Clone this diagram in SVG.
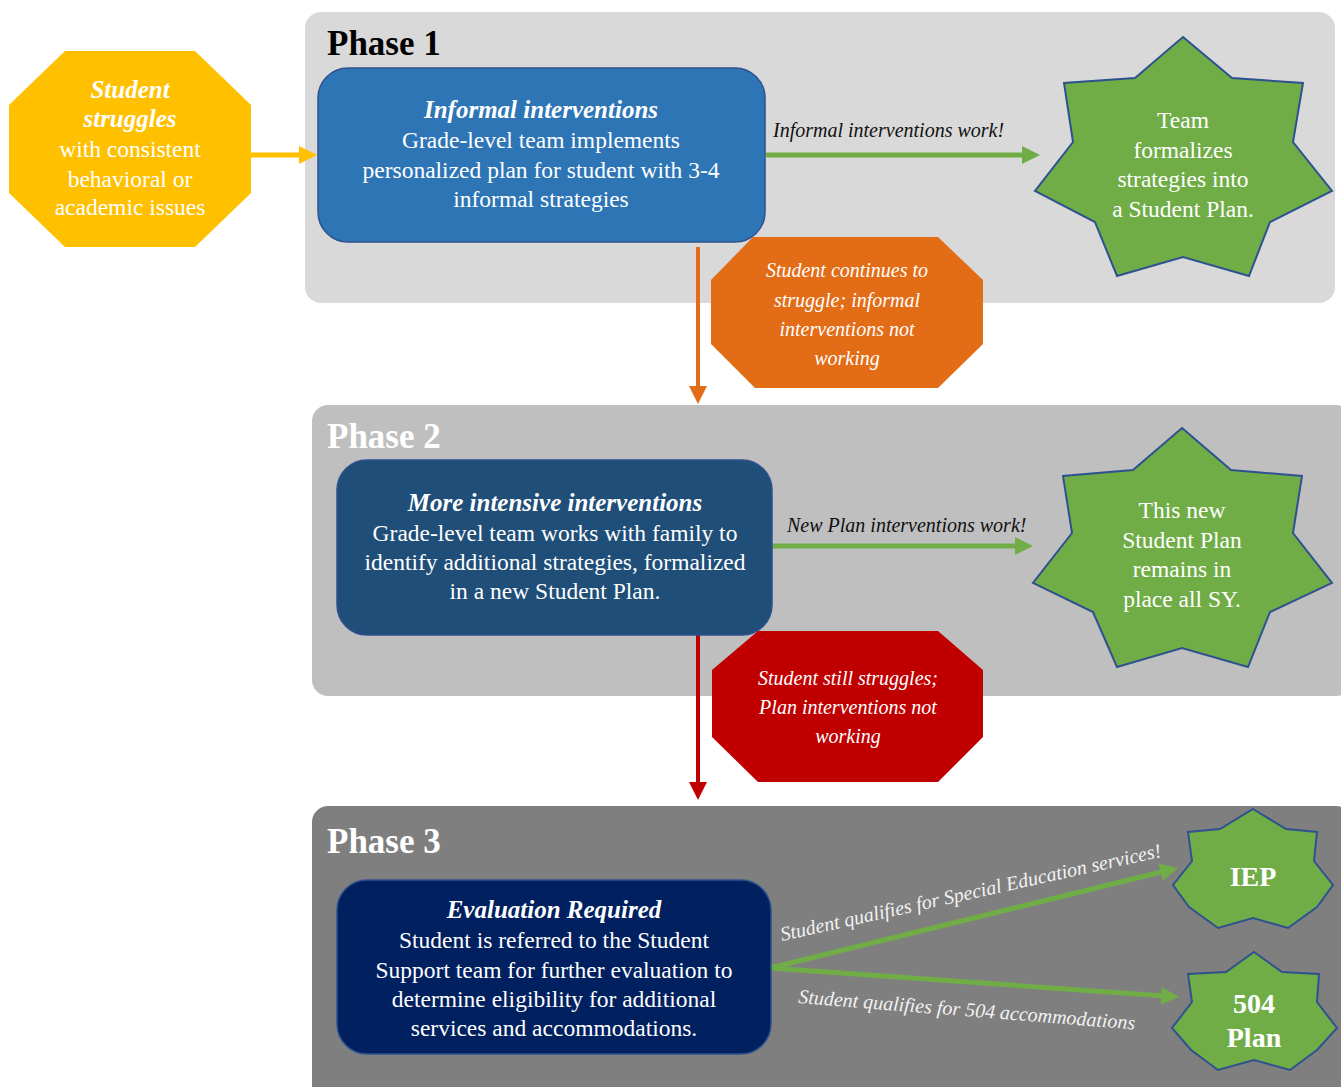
<svg xmlns="http://www.w3.org/2000/svg" width="1341" height="1087" viewBox="0 0 1341 1087">
<style>
text{font-family:"Liberation Serif","Times New Roman",serif;}
.phase{font-size:35px;font-weight:bold;}
.ttl{font-size:25px;font-weight:bold;font-style:italic;fill:#fff;text-anchor:middle;}
.body{font-size:23.5px;fill:#fff;text-anchor:middle;}
.lbl{font-size:20px;font-style:italic;}
.oct{font-size:20px;font-style:italic;fill:#fff;text-anchor:middle;}
.box{stroke:#2f528f;stroke-width:1.5;}
.star{fill:#70ad47;stroke:#2f528f;stroke-width:2;stroke-linejoin:miter;}
.big{font-size:28px;font-weight:bold;fill:#fff;text-anchor:middle;}
</style>
<defs>
<marker id="ay" markerUnits="userSpaceOnUse" markerWidth="18" markerHeight="18" refX="4" refY="9" orient="auto"><path d="M0,0 L18,9 L0,18 z" fill="#ffc000"/></marker>
<marker id="ag" markerUnits="userSpaceOnUse" markerWidth="18" markerHeight="18" refX="4" refY="9" orient="auto"><path d="M0,0 L18,9 L0,18 z" fill="#70ad47"/></marker>
<marker id="ao" markerUnits="userSpaceOnUse" markerWidth="18" markerHeight="18" refX="4" refY="9" orient="auto"><path d="M0,0 L18,9 L0,18 z" fill="#e36c16"/></marker>
<marker id="ar" markerUnits="userSpaceOnUse" markerWidth="18" markerHeight="18" refX="4" refY="9" orient="auto"><path d="M0,0 L18,9 L0,18 z" fill="#c00000"/></marker>
</defs>

<g id="panels">
<rect id="phase1-panel" x="305" y="12" width="1030" height="291" rx="16" fill="#d9d9d9"/>
<rect id="phase2-panel" x="312" y="405" width="1040" height="291" rx="16" fill="#bfbfbf"/>
<rect id="phase3-panel" x="312" y="806" width="1040" height="300" rx="16" fill="#7f7f7f"/>
<text x="327" y="55" class="phase" fill="#000">Phase 1</text>
<text x="327" y="448" class="phase" fill="#fff">Phase 2</text>
<text x="327" y="853" class="phase" fill="#fff">Phase 3</text>
</g>

<g id="connectors">
<line x1="251" y1="155" x2="303" y2="155" stroke="#ffc000" stroke-width="5" marker-end="url(#ay)"/>
<line x1="766" y1="155" x2="1026" y2="155" stroke="#70ad47" stroke-width="5" marker-end="url(#ag)"/>
<line x1="772" y1="546" x2="1019" y2="546" stroke="#70ad47" stroke-width="5" marker-end="url(#ag)"/>
<line x1="698" y1="247" x2="698" y2="390" stroke="#e36c16" stroke-width="4" marker-end="url(#ao)"/>
<line x1="698" y1="635" x2="698" y2="786" stroke="#c00000" stroke-width="4" marker-end="url(#ar)"/>
<line x1="770" y1="968" x2="1164.4" y2="871.3" stroke="#70ad47" stroke-width="5" marker-end="url(#ag)"/>
<line x1="770" y1="968" x2="1165" y2="996" stroke="#70ad47" stroke-width="5" marker-end="url(#ag)"/>
<text x="773" y="137" class="lbl" fill="#111">Informal interventions work!</text>
<text x="787" y="532" class="lbl" fill="#111">New Plan interventions work!</text>
<text x="782" y="941" class="lbl" fill="#f2f2f2" transform="rotate(-12.5 782 941)">Student qualifies for Special Education services!</text>
<text x="798" y="1003" class="lbl" fill="#f2f2f2" transform="rotate(4.5 798 1003)">Student qualifies for 504 accommodations</text>
</g>

<g id="start">
<polygon points="65,51 195,51 251,105 251,193 195,247 65,247 9,193 9,105" fill="#ffc000"/>
<text x="130" y="98" class="ttl">Student</text>
<text x="130" y="127" class="ttl">struggles</text>
<text x="130" y="157" class="body">with consistent</text>
<text x="130" y="187" class="body">behavioral or</text>
<text x="130" y="215" class="body">academic issues</text>
</g>

<g id="informal">
<rect x="318" y="68" width="447" height="174" rx="30" fill="#2e75b6" class="box"/>
<text x="541" y="118" class="ttl">Informal interventions</text>
<text x="541" y="148" class="body">Grade-level team implements</text>
<text x="541" y="178" class="body">personalized plan for student with 3-4</text>
<text x="541" y="207" class="body">informal strategies</text>
</g>

<g id="plan1">
<polygon class="star" points="1183,37 1232,78 1303,83 1293,142 1332,191 1270,222 1249,276 1183,257 1117,276 1095,222 1035,191 1073,142 1064,83 1135,78"/>
<text x="1183" y="128" class="body">Team</text>
<text x="1183" y="158" class="body">formalizes</text>
<text x="1183" y="187" class="body">strategies into</text>
<text x="1183" y="217" class="body">a Student Plan.</text>
</g>

<g id="struggle1">
<polygon points="753,237 938,237 983,280 983,344 938,388 755,388 711,344 711,280" fill="#e36c16"/>
<text x="847" y="277" class="oct">Student continues to</text>
<text x="847" y="307" class="oct">struggle; informal</text>
<text x="847" y="336" class="oct">interventions not</text>
<text x="847" y="365" class="oct">working</text>
</g>

<g id="intensive">
<rect x="337" y="460" width="435" height="175" rx="30" fill="#1f4e79" class="box"/>
<text x="555" y="511" class="ttl">More intensive interventions</text>
<text x="555" y="541" class="body">Grade-level team works with family to</text>
<text x="555" y="570" class="body">identify additional strategies, formalized</text>
<text x="555" y="599" class="body">in a new Student Plan.</text>
</g>

<g id="plan2">
<polygon class="star" points="1182,428 1231,470 1302,476 1293,533 1332,583 1270,612 1248,667 1182,648 1117,667 1093,612 1033,583 1072,533 1063,476 1133,470"/>
<text x="1182" y="518" class="body">This new</text>
<text x="1182" y="548" class="body">Student Plan</text>
<text x="1182" y="577" class="body">remains in</text>
<text x="1182" y="607" class="body">place all SY.</text>
</g>

<g id="struggle2">
<polygon points="758,631 938,631 983,670 983,737 938,782 758,782 712,737 712,670" fill="#c00000"/>
<text x="848" y="685" class="oct">Student still struggles;</text>
<text x="848" y="714" class="oct">Plan interventions not</text>
<text x="848" y="743" class="oct">working</text>
</g>

<g id="evaluation">
<rect x="337" y="880" width="434" height="174" rx="30" fill="#002060" class="box"/>
<text x="554" y="918" class="ttl">Evaluation Required</text>
<text x="554" y="948" class="body">Student is referred to the Student</text>
<text x="554" y="978" class="body">Support team for further evaluation to</text>
<text x="554" y="1007" class="body">determine eligibility for additional</text>
<text x="554" y="1036" class="body">services and accommodations.</text>
</g>

<g id="iep">
<polygon class="star" points="1253,809 1286,829 1317,832 1314,861 1333,885 1317,907 1288,928 1253,918 1218,928 1189,907 1173,885 1192,861 1188,832 1220,829"/>
<text x="1253" y="886" class="big">IEP</text>
</g>

<g id="plan504">
<polygon class="star" points="1254,952 1282,972 1319,974 1317,1002 1337,1028 1317,1050 1290,1070 1254,1060 1218,1070 1191,1050 1172,1028 1192,1002 1188,974 1226,972"/>
<text x="1254" y="1013" class="big">504</text>
<text x="1254" y="1047" class="big">Plan</text>
</g>
</svg>
